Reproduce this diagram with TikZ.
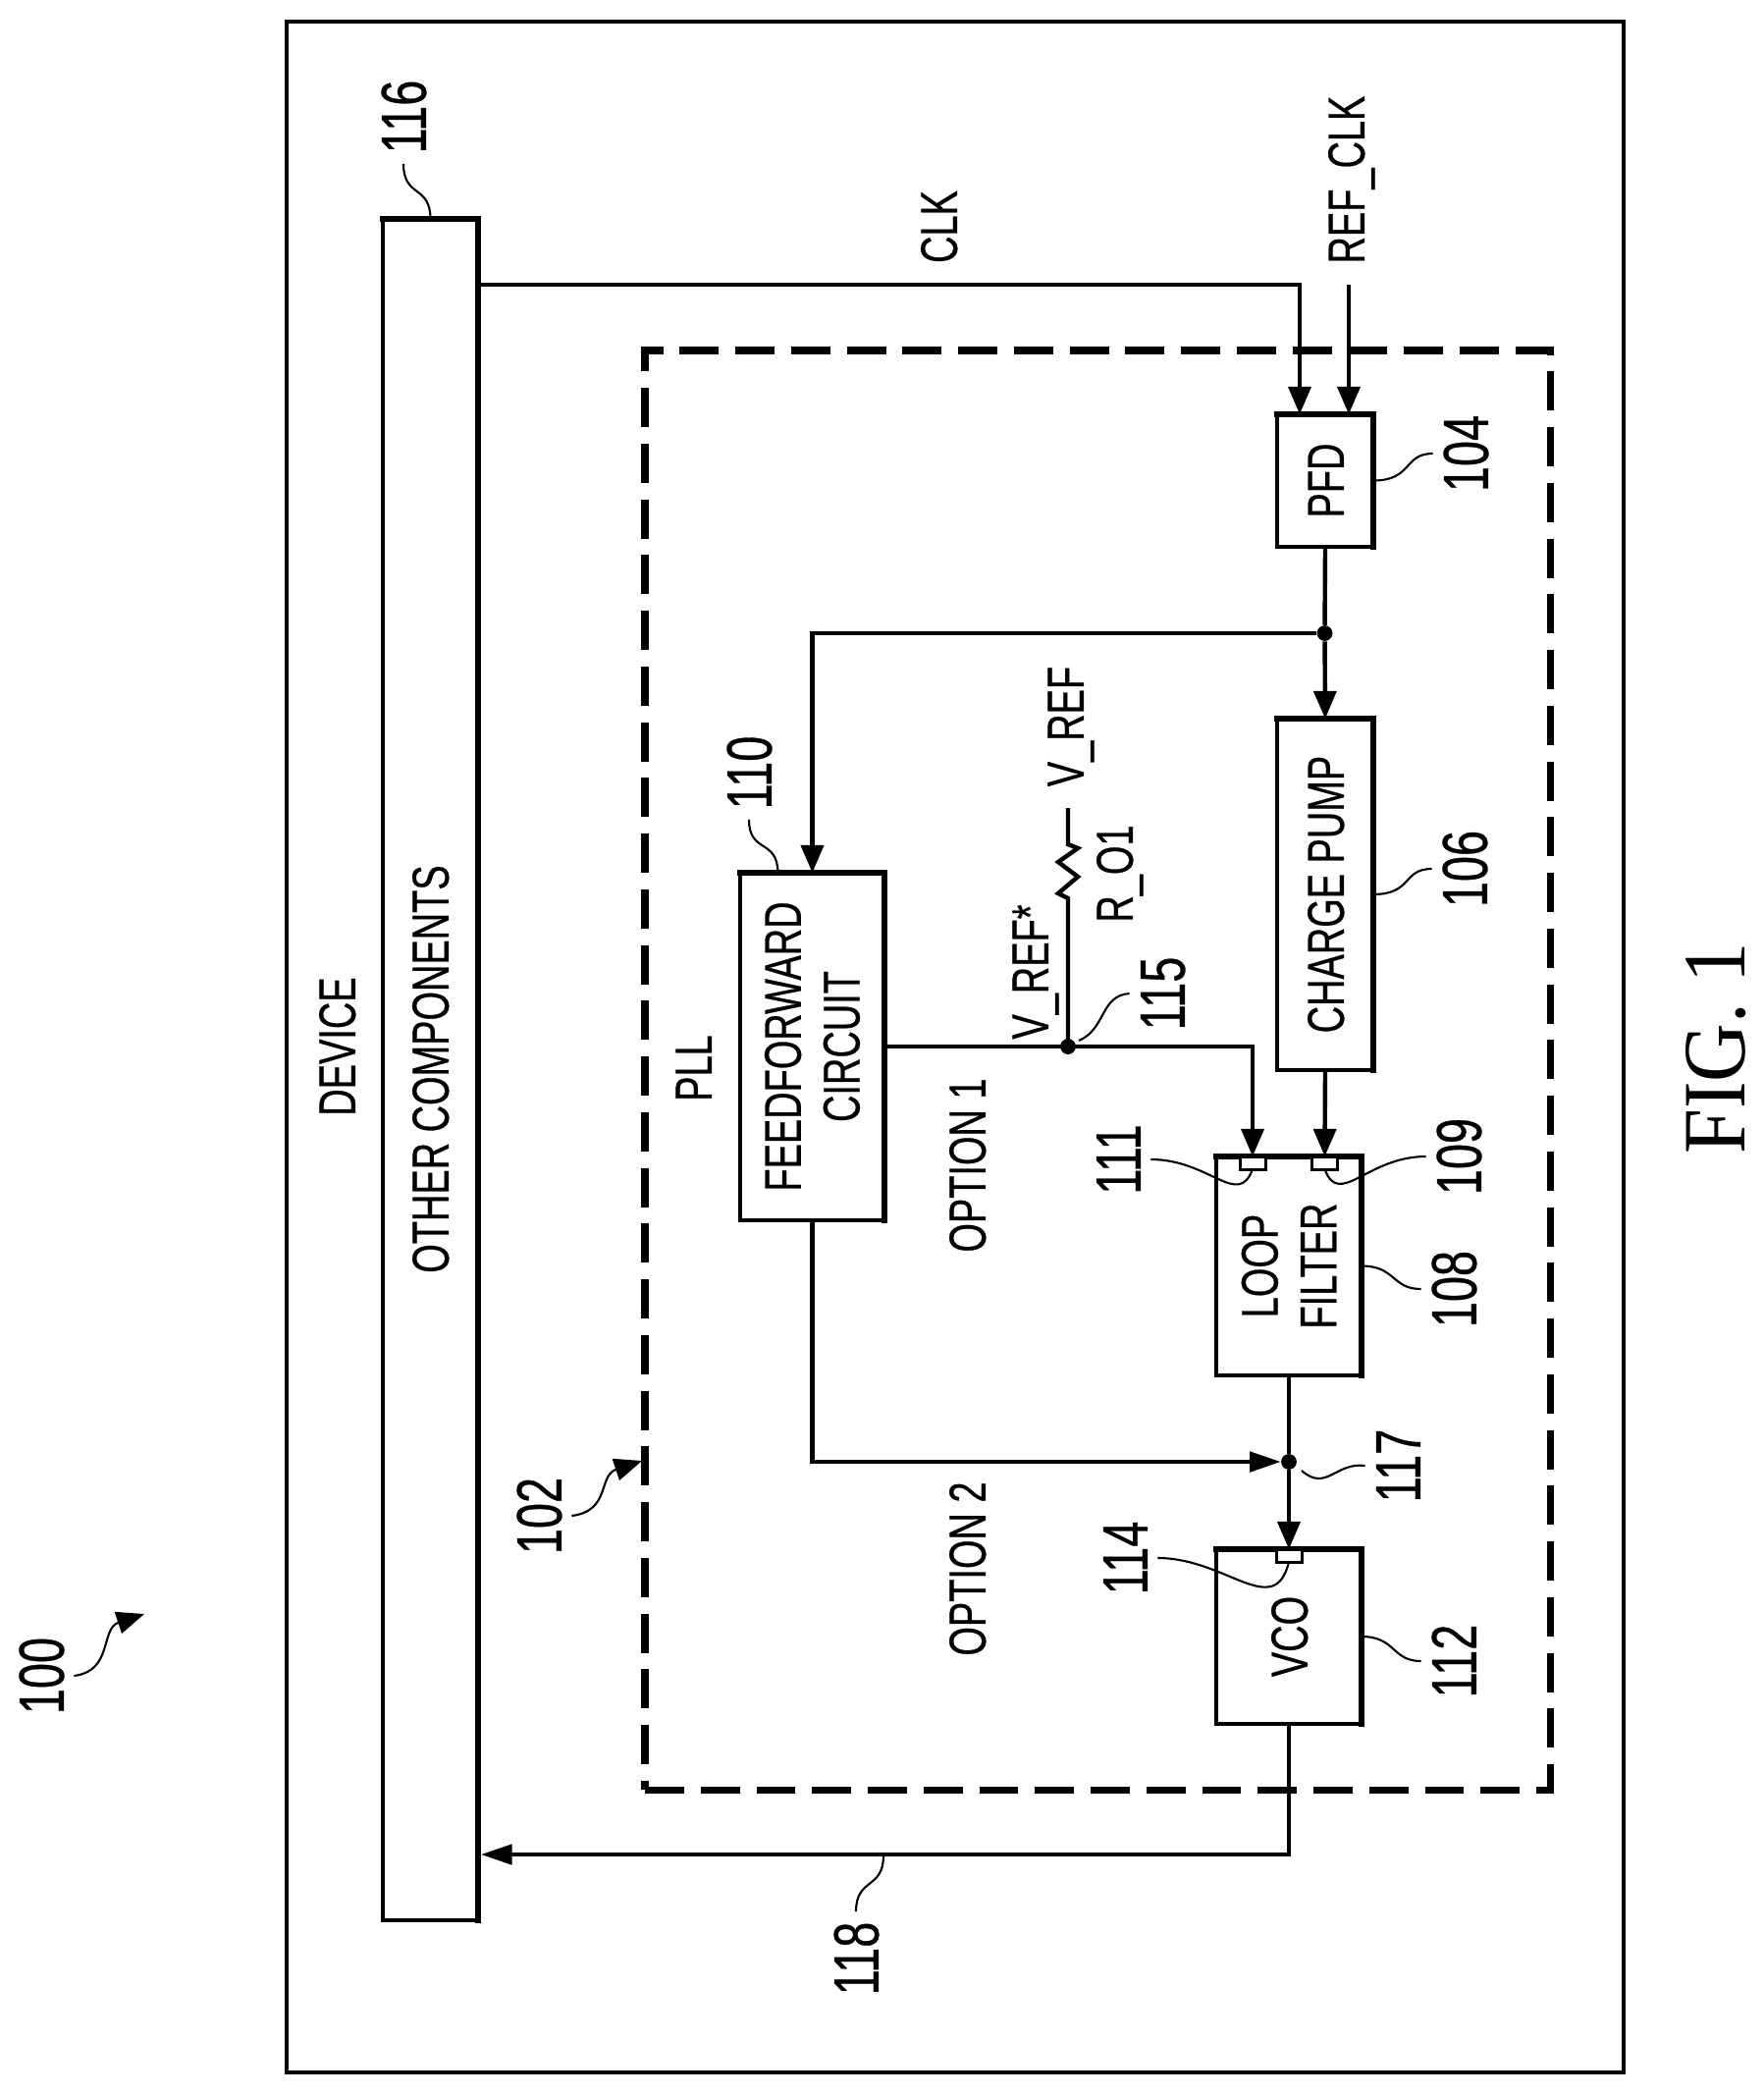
\documentclass[tikz,border=0pt]{standalone}
\usepackage{fontspec}
\setmainfont[FakeStretch=0.72,FakeBold=0.5]{Liberation Sans}
\newfontfamily\figfont[FakeStretch=0.91]{Liberation Serif}
\usetikzlibrary{arrows.meta}
\def\pxu{0.02cm}
\begin{document}
\begin{tikzpicture}
      [x=0.02cm, y=-0.02cm,
       >={Triangle[length=16pt,width=13pt]},
       sidetip/.style={>={Triangle[length=18pt,width=11.5pt]}},
       frame/.style={
           draw=black, line width=2.5pt, inner sep=0pt, outer sep=0pt
         },
       heavy/.style={line width=3.7pt, line cap=rect},
       dashbox/.style={
           frame, line width=4pt, dash pattern=on 22.7pt off 9.6pt
         },
       port/.style={
           frame, line width=1.7pt, fill=white,
           minimum width=26*\pxu, minimum height=13*\pxu
         },
       wire/.style={draw=black, line width=2.5pt},
       leader/.style={draw=black, line width=1.2pt},
       dot/.style={circle, fill=black, inner sep=0pt, minimum size=9pt},
       boxtext/.style={
           rotate=90, inner sep=0pt,
           font=\fontsize{30}{34}\selectfont,
           text height=21.5pt, text depth=0pt
         },
       twolines/.style={
           rotate=90, inner sep=0pt, align=center,
           font=\fontsize{30}{34}\selectfont
         },
       numtext/.style={
           rotate=90, inner sep=0pt, outer sep=6pt,
           font=\fontsize{37}{40}\selectfont,
           text height=26pt, text depth=0pt
         },
       ]
    \useasboundingbox (0,0) rectangle (1796,2134);

    \node [frame, minimum width=1362*\pxu, minimum height=2089*\pxu] (device) at (973,1066.5) {};
    \node [dashbox, minimum width=922*\pxu, minimum height=1466*\pxu] (pll) at (1118,1090) {};

    \node [frame, minimum width=97*\pxu, minimum height=1733*\pxu] (others) at (438.5,1089.5) {};
    \node [frame, minimum width=98*\pxu, minimum height=135*\pxu] (pfd) at (1350,489.5) {};
    \node [frame, minimum width=98*\pxu, minimum height=358*\pxu] (pump) at (1350,911) {};
    \node [frame, minimum width=147*\pxu, minimum height=354*\pxu] (feed) at (827.5,1066) {};
    \node [frame, minimum width=148*\pxu, minimum height=223*\pxu] (filter) at (1313,1289.5) {};
    \node [frame, minimum width=148*\pxu, minimum height=178*\pxu] (vco) at (1313,1667) {};

    \foreach \blk in {others,pfd,pump,feed,filter,vco}
      \draw [heavy] (\blk.north west) -- (\blk.north east) -- (\blk.south east);

    \node [port] (port111) at (1276,1184.5) {};
    \node [port] (port109) at (1349.5,1184.5) {};
    \node [port] (port114) at (1313,1584.5) {};

    \node [dot] (jpfd) at (1349.5,645) {};
    \node [dot] (jref) at (1088,1066) {};
    \node [dot] (jvco) at (1313,1489) {};

    \coordinate (clkout) at (487,290);
    \coordinate (clkin) at (1324,422);
    \coordinate (refstart) at (1374,290);
    \coordinate (refin) at (1374,422);
    \coordinate (fbin) at (490,1889);
    \coordinate (vreftop) at (1088,823);
    \coordinate (tap115) at (1099,1060);
    \coordinate (tap117) at (1326,1498);
    \coordinate (tap118) at (900,1890);
    \coordinate (tip100) at (147,1644);
    \coordinate (tip102) at (654,1488);

    \path (clkout) edge [wire, ->, to path={-| (\tikztotarget)}] (clkin);
    \path (refstart) edge [wire, ->] (refin);
    \path (pfd.south) edge [wire] (jpfd);
    \path (jpfd) edge [wire, ->] (pump.north);
    \path (jpfd) edge [wire, ->, to path={-| (\tikztotarget)}] (feed.north);
    \path (pump.south) edge [wire, ->] (port109.north);
    \path (feed.east) edge [wire, ->, to path={-| (\tikztotarget)}] (port111.north);
    \path (feed.south) edge [wire, sidetip, ->, to path={|- (\tikztotarget)}] (jvco);
    \path (filter.south) edge [wire] (jvco);
    \path (jvco) edge [wire, ->] (port114.north);
    \path (vco.south) edge [wire, sidetip, ->, to path={|- (\tikztotarget)}] (fbin);
    \draw [wire] (jref.center) -- ++(0,-151) -- ++(-10,-5) -- ++(20,-17) -- ++(-20,-15)
      -- ++(20,-14) -- ++(-10,-4) -- (vreftop);

    \node [boxtext] (devicetxt) at (343,1066) {DEVICE};
    \node [boxtext] (otherstxt) at (438,1089) {OTHER COMPONENTS};
    \node [boxtext] (plltxt) at (706,1088) {PLL};
    \node [boxtext] (clktxt) at (956,231) {CLK};
    \node [boxtext] (reftxt) at (1371,183) {REF\_CLK};
    \node [boxtext] (pfdtxt) at (pfd) {PFD};
    \node [boxtext] (pumptxt) at (pump) {CHARGE PUMP};
    \node [twolines] (feedtxt) at (feed) {FEEDFORWARD\\CIRCUIT};
    \node [twolines] (filtertxt) at (filter) {LOOP\\FILTER};
    \node [boxtext] (vcotxt) at (vco) {VCO};
    \node [boxtext] (opt1txt) at (985,1187) {OPTION 1};
    \node [boxtext] (opt2txt) at (985,1598) {OPTION 2};
    \node [boxtext] (vrefstxt) at (1049,990) {V\_REF*};
    \node [boxtext] (vreftxt) at (1085,740) {V\_REF};
    \node [boxtext] (rotxt) at (1135,890) {R\_O1};

    \node [numtext] (n100) at (42,1707) {100};
    \node [numtext] (n102) at (549,1544) {102};
    \node [numtext] (n104) at (1493,462) {104};
    \node [numtext] (n106) at (1492,885) {106};
    \node [numtext] (n108) at (1481,1313) {108};
    \node [numtext] (n109) at (1486,1178) {109};
    \node [numtext] (n110) at (763,787) {110};
    \node [numtext] (n111) at (1139,1181) {111};
    \node [numtext] (n112) at (1481,1692) {112};
    \node [numtext] (n114) at (1146,1587) {114};
    \node [numtext] (n115) at (1184,1012) {115};
    \node [numtext] (n116) at (411,119) {116};
    \node [numtext] (n117) at (1424,1493) {117};
    \node [numtext] (n118) at (872,1995) {118};
    \node [rotate=90, inner sep=0pt, font=\figfont\fontsize{51.6}{54}\selectfont] (figtxt) at (1748,1068) {FIG. 1};

    \draw [leader] (pfd.east) .. controls +(40,0) and +(-30,0) .. (n104.north);
    \draw [leader] (pump.east) .. controls +(40,0) and +(-30,0) .. (n106.north);
    \draw [leader] (filter.east) .. controls +(35,0) and +(-30,0) .. (n108.north);
    \draw [leader] (vco.east) .. controls +(35,0) and +(-30,0) .. (n112.north);
    \draw [leader] (others.north) .. controls +(0,-35) and +(0,35) .. (n116.west);
    \draw [leader] ([xshift=-20pt]feed.north) .. controls +(0,-35) and +(0,35) .. (n110.west);
    \draw [leader] (tap118) .. controls +(0,35) and +(0,-35) .. (n118.east);
    \draw [leader] (tap115) .. controls +(28,-12) and +(-30,2) .. (n115.north);
    \draw [leader] (tap117) .. controls +(25,22) and +(-30,-4) .. (n117.north);
    \draw [leader] (n111.south) .. controls +(60,0) and +(-15,40) .. (port111.south);
    \draw [leader] (port109.south) .. controls +(15,40) and +(-60,0) .. (n109.north);
    \draw [leader] (n114.south) .. controls +(70,0) and +(-15,60) .. (port114.south);
    \draw [leader, ->] (n100.south) .. controls +(40,-5) and +(-45,15) .. (tip100);
    \draw [leader, ->] (n102.south) .. controls +(40,-5) and +(-45,15) .. (tip102);
  \end{tikzpicture}
\end{document}
